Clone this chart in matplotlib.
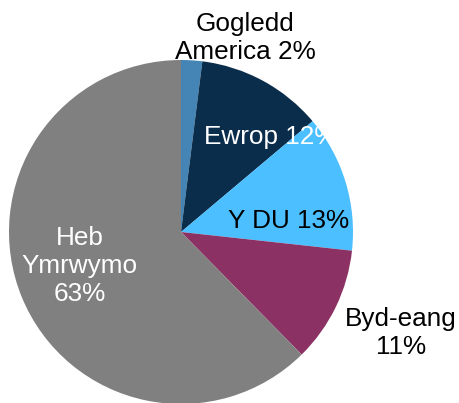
import matplotlib
matplotlib.use("Agg")
import matplotlib.pyplot as plt

plt.rcParams['font.family'] = ['Liberation Sans', 'DejaVu Sans']

# data
labels = ['Gogledd\nAmerica 2%', 'Ewrop 12%', 'Y DU 13%', 'Byd-eang\n11%', 'Heb\nYmrwymo\n63%']
shares = [2, 12, 13, 11, 63]
colors = ['#4485B5', '#0B2D4C', '#4BBFFF', '#8C3163', '#808080']
text_colors = ['black', 'white', 'black', 'black', 'white']

fig = plt.figure(figsize=(4.6, 4.03), dpi=100)
# pie centre at (181, 232) px, radius 172 px
r = 172
ax = fig.add_axes([(181 - r) / 460, (403 - 232 - r) / 403, 2 * r / 460, 2 * r / 403])
ax.pie(shares, colors=colors, startangle=90, counterclock=False, radius=1,
       wedgeprops=dict(linewidth=0))
ax.set_xlim(-1, 1)
ax.set_ylim(-1, 1)
ax.set_aspect('auto')
ax.axis('off')

# label positions (in pie radius units)
label_pos = [(0.372, 1.13), (0.52, 0.552), (0.625, 0.064), (1.279, -0.587), (-0.59, -0.198)]
for lab, (x, y), c in zip(labels, label_pos, text_colors):
    ax.text(x, y, lab, ha='center', va='center', color=c, fontsize=18.8,
            multialignment='center', clip_on=False)

fig.savefig('out.png', dpi=100)
